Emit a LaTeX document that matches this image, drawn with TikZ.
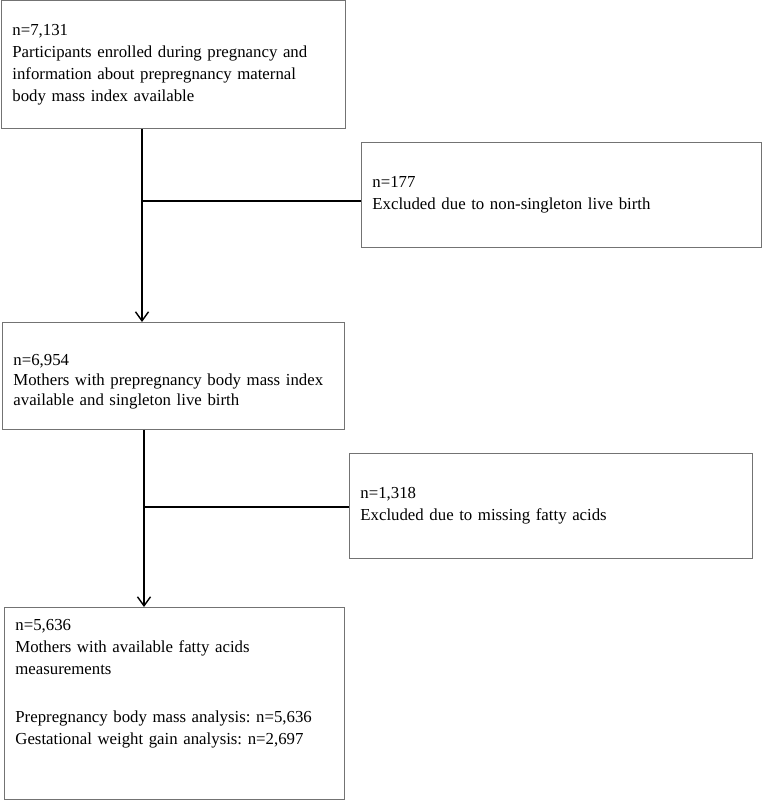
\documentclass[tikz,border=0pt]{standalone}
\usepackage{fontspec}
\setmainfont{Liberation Serif}
\usetikzlibrary{arrows.meta}
\frenchspacing
\hyphenpenalty=10000

\tikzset{
  flowbox/.style={draw=black!55, line width=0.8pt, anchor=north west, align=left,
    inner xsep=11pt, font=\fontsize{16.8pt}{22pt}\selectfont},
  flowline/.style={line width=1.4pt},
  flowarrow/.style={flowline, -{Straight Barb[length=9pt,width=13pt,line width=1.4pt]}}
}

\begin{document}
\begin{tikzpicture}[x=1pt,y=1pt]
\useasboundingbox (0,0) rectangle (767,-801);
% Main boxes
\node[flowbox, text width=322pt, minimum height=128pt] (enrolled) at (1,0)
  {n=7,131\\Participants enrolled during pregnancy and\\information about prepregnancy maternal\\body mass index available};
\node[flowbox, text width=320pt, minimum height=107pt, font=\fontsize{16.8pt}{20pt}\selectfont] (singleton) at (2,-322)
  {\rule{0pt}{22.6pt}n=6,954\\Mothers with prepregnancy body mass index\\available and singleton live birth};
\node[flowbox, text width=318pt, minimum height=192pt] (final) at (4,-607)
  {n=5,636\\Mothers with available fatty acids\\measurements\\[26pt]Prepregnancy body mass analysis: n=5,636\\Gestational weight gain analysis: n=2,697\rule[-42pt]{0pt}{0pt}};
% Exclusion boxes
\node[flowbox, text width=378pt, minimum height=105pt] (excl1) at (361,-142)
  {n=177\\Excluded due to non-singleton live birth};
\node[flowbox, text width=381pt, minimum height=105pt] (excl2) at (349,-453)
  {n=1,318\\Excluded due to missing fatty acids};
% Connectors
\coordinate (trunk1) at ([xshift=141pt]enrolled.south west);
\coordinate (trunk2) at ([xshift=142pt]singleton.south west);
\draw[flowarrow] (trunk1) -- (trunk1 |- singleton.north);
\draw[flowline] ([yshift=-6pt]excl1.west) -- ([yshift=-6pt]excl1.west -| trunk1);
\draw[flowarrow] (trunk2) -- (trunk2 |- final.north);
\draw[flowline] ([yshift=-1pt]excl2.west) -- ([yshift=-1pt]excl2.west -| trunk2);
\end{tikzpicture}
\end{document}
